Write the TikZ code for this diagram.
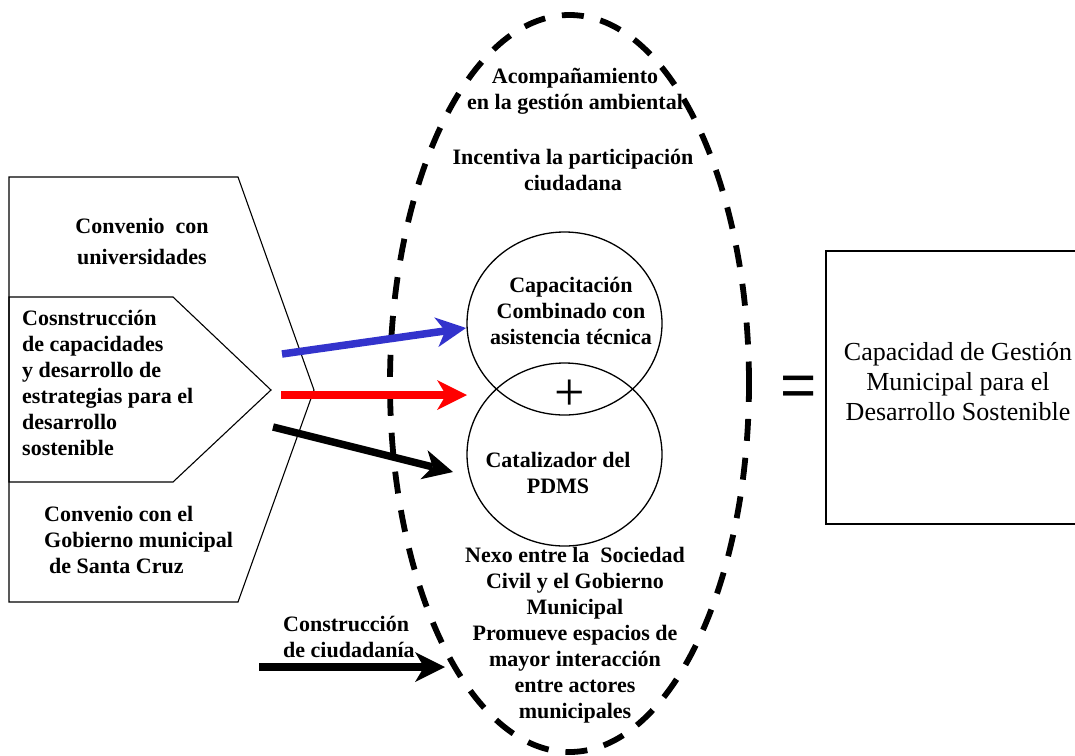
\documentclass[tikz,border=0pt]{standalone}
\usepackage{fontspec}
\setmainfont{Liberation Serif}
\newfontfamily\symfont{Liberation Sans}
\usetikzlibrary{arrows.meta,shapes.geometric}
\definecolor{arrowblue}{RGB}{51,51,204}
\definecolor{arrowred}{RGB}{255,0,0}
\begin{document}
\begin{tikzpicture}[x=1pt,y=-1pt,
  lbl/.style={font=\bfseries\fontsize{22}{26}\selectfont, align=center, inner sep=0pt},
  lbll/.style={font=\bfseries\fontsize{22}{26}\selectfont, align=left, inner sep=0pt, anchor=west},
  thin/.style={draw=black, line width=1.1pt},
  circ/.style={ellipse, draw=black, line width=1.3pt, minimum width=195pt, minimum height=183pt, inner sep=0pt},
  bigarrow/.style={line width=7.5pt, -{Stealth[length=30pt,width=30pt,inset=9pt,line width=0pt]}},
  oval/.style={ellipse, draw=black, line width=5.8pt, dash pattern=on 22pt off 17pt, minimum width=359pt, minimum height=737pt, inner sep=0pt}
]
\useasboundingbox (0,0) rectangle (1075,755);

% dashed oval
\node[oval] (oval) at (569.5,383.5) {};

% left shapes
\draw[thin] (9,177) -- (238,177) -- (314,390) -- (238,602) -- (9,602) -- cycle;
\draw[thin] (9,297) -- (173,297) -- (271,390) -- (173,482) -- (9,482) -- cycle;

\node[lbl, font=\bfseries\fontsize{22}{31}\selectfont] (univ) at (142,241) {Convenio\ \ con\\universidades};
\node[lbll] (cons) at (22,383) {Cosnstrucción\\de capacidades\\y desarrollo de\\estrategias para el\\desarrollo\\sostenible};
\node[lbll] (gob) at (44,540) {Convenio con el\\Gobierno municipal\\\hspace{5pt}de Santa Cruz};

% circles
\node[circ] (c1) at (564.5,323.5) {};
\node[circ] (c2) at (564.5,454.5) {};
\node[lbl] (t1) at (571,311) {Capacitación\\Combinado con\\asistencia técnica};
\node[lbl] (t2) at (558,473) {Catalizador del\\PDMS};
\node[inner sep=0pt, font=\fontsize{54}{54}\selectfont] (plus) at (570,395) {+};

% oval texts
\node[lbl] (acomp) at (575,91) {Acompañamiento\\en la gestión ambiental};
\node[lbl] (incent) at (573,170) {Incentiva la participación\\ciudadana};
\node[lbl] (nexo) at (575,635.5) {Nexo entre la\ \ Sociedad\\Civil y el Gobierno\\Municipal\\Promueve espacios de\\mayor interacción\\entre actores\\municipales};

% construction label
\node[lbll] (ciud) at (283,637) {Construcción\\de ciudadanía};

% equals and result box
\node[inner sep=0pt, font=\symfont\fontsize{62}{62}\selectfont] (eq) at (798.5,391.5) {=};
\node[draw=black, line width=1.2pt, minimum width=264pt, minimum height=273pt, inner sep=0pt] (box) at (958,387.5) {};
\node[font=\fontsize{26}{30}\selectfont, align=center, inner sep=0pt] (res) at (958,382) {Capacidad de Gestión\\Municipal para el\\Desarrollo Sostenible};

% arrows
\coordinate (bS) at (282,354);
\coordinate (bE) at (466,328);
\coordinate (rS) at (281,395);
\coordinate (rE) at (467,395);
\coordinate (kS) at (273,427);
\coordinate (kE) at (453,472);
\coordinate (dS) at (259,667);
\coordinate (dE) at (445,667);
\draw[bigarrow, arrowblue] (bS) -- (bE);
\draw[bigarrow, arrowred] (rS) -- (rE);
\draw[bigarrow, black] (kS) -- (kE);
\draw[bigarrow, black] (dS) -- (dE);
\end{tikzpicture}
\end{document}
